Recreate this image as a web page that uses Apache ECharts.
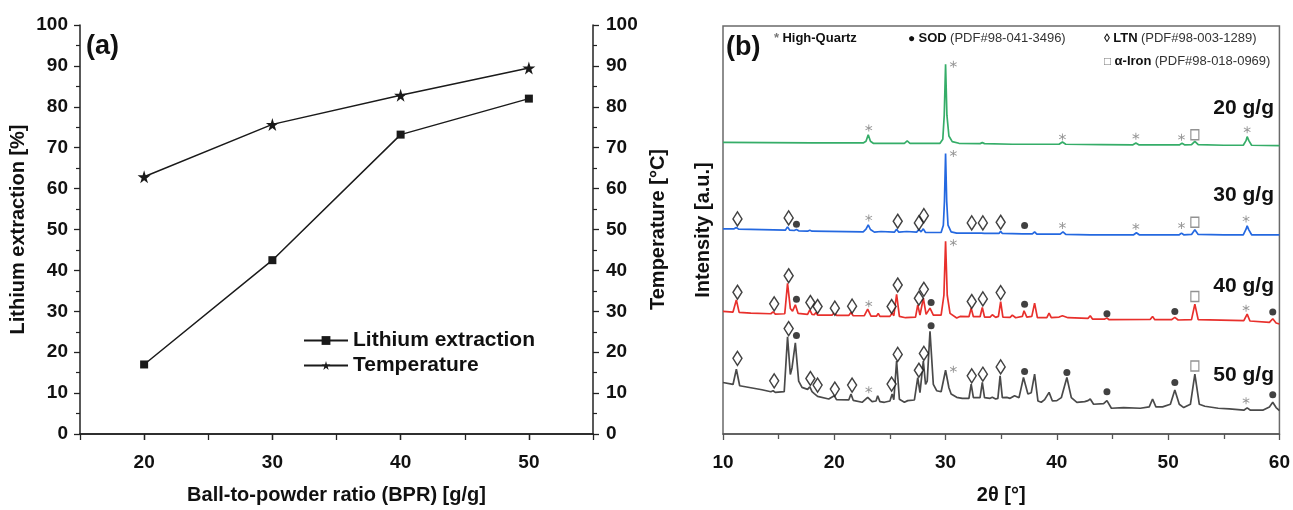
<!DOCTYPE html>
<html>
<head>
<meta charset="utf-8">
<script src="https://cdn.jsdelivr.net/npm/echarts@6/dist/echarts.min.js"></script>
<style>
  html, body { margin: 0; padding: 0; background: #fff; }
  #chart { width: 1293px; height: 510px; }
</style>
</head>
<body>
<div id="chart"></div>
<script>
// ---- Panel (a): lithium extraction and temperature vs. ball-to-powder ratio ----
const bprValues = [20, 30, 40, 50];
const lithiumExtraction = [17, 42.5, 73.2, 82];
const temperature = [62.9, 75.7, 82.8, 89.5];
const bprTicks = [20, 30, 40, 50];

// ---- Panel (b): XRD patterns, [2θ (°), intensity (a.u., stacked)] ----
const sampleNames = ['20 g/g', '30 g/g', '40 g/g', '50 g/g'];

const xrd20 = [
  [10, 883], [14, 882], [18, 881], [22.6, 881], [22.85, 886], [23.05, 906], [23.25, 886], [23.5, 880],
  [26.3, 880], [26.55, 887], [26.8, 880], [29.5, 880], [29.75, 892], [29.88, 965], [30.0, 1119],
  [30.12, 965], [30.3, 902], [30.6, 885], [31.2, 880], [33.1, 879], [33.3, 882], [33.5, 879],
  [36, 877], [40.2, 877], [40.5, 884], [40.8, 877], [44, 876], [46.8, 875], [47.1, 881], [47.4, 875],
  [49, 875], [51.0, 875], [51.25, 880], [51.5, 875], [52.1, 876], [52.4, 886], [52.7, 876],
  [55, 874], [56.75, 874], [57.0, 888], [57.1, 900], [57.25, 888], [57.5, 874], [60, 873]
];

const xrd30 = [
  [10, 621], [11.0, 621], [11.2, 625], [11.4, 620], [15.6, 617], [15.8, 627], [16.0, 617],
  [16.4, 616], [16.6, 619], [16.8, 615], [17.6, 614], [17.8, 617], [18.0, 614], [22.6, 612],
  [22.85, 620], [23.05, 633], [23.25, 619], [23.6, 611], [24.2, 613], [25.4, 611], [25.6, 620],
  [25.8, 611], [26.5, 613], [27.4, 611], [27.6, 619], [27.8, 612], [28.0, 621], [28.2, 610],
  [29.6, 610], [29.8, 632], [29.9, 705], [30.0, 849], [30.1, 705], [30.22, 632], [30.5, 612],
  [31, 608], [32.2, 608], [32.35, 612], [32.5, 608], [33.2, 608], [33.35, 612], [33.5, 607],
  [34.8, 607], [34.95, 614], [35.1, 607], [36.9, 606], [37.05, 611], [37.2, 606], [37.8, 606],
  [38.0, 612], [38.2, 605], [40.3, 605], [40.55, 612], [40.8, 604], [43, 603], [46.9, 603],
  [47.15, 609], [47.4, 603], [51.0, 603], [51.2, 608], [51.4, 603], [52.1, 604], [52.4, 618],
  [52.7, 604], [55, 603], [56.75, 603], [57.0, 620], [57.1, 630], [57.25, 618], [57.5, 603], [60, 603]
];

const xrd40 = [
  [10, 371], [10.9, 369], [11.2, 406], [11.45, 368], [12.5, 366], [14.3, 364], [14.5, 370],
  [14.7, 363], [15.55, 364], [15.8, 456], [16.05, 380], [16.25, 372], [16.5, 391], [16.75, 365],
  [17.6, 362], [17.8, 376], [18.0, 362], [18.2, 361], [18.35, 368], [18.5, 360], [19.8, 360],
  [20.0, 367], [20.2, 359], [21.3, 359], [21.5, 368], [21.7, 358], [22.7, 358], [23.0, 378],
  [23.3, 357], [23.8, 357], [23.95, 365], [24.1, 356], [25.0, 356], [25.2, 366], [25.35, 358],
  [25.6, 423], [25.85, 356], [26.4, 352], [27.3, 354], [27.5, 391], [27.7, 360], [28.0, 411],
  [28.25, 362], [28.6, 381], [28.9, 360], [29.6, 360], [29.85, 420], [30.0, 583], [30.15, 420],
  [30.4, 365], [31, 351], [31.3, 356], [32.1, 355], [32.3, 381], [32.5, 355], [33.1, 355],
  [33.3, 383], [33.5, 354], [34.0, 354], [34.2, 361], [34.5, 353], [34.75, 356], [34.95, 401],
  [35.15, 354], [35.8, 353], [36.0, 360], [36.3, 352], [36.9, 356], [37.05, 373], [37.3, 354],
  [37.75, 356], [38.0, 396], [38.25, 352], [39.1, 352], [39.3, 366], [39.5, 352], [40.2, 354],
  [40.5, 358], [41, 352], [42.8, 350], [43.0, 358], [43.2, 348], [44.3, 348], [44.5, 351],
  [44.7, 346], [48.4, 347], [48.6, 356], [48.8, 346], [50.3, 346], [50.6, 353], [50.9, 345],
  [52.1, 346], [52.4, 393], [52.7, 346], [56.8, 343], [57.1, 363], [57.35, 342], [59.1, 338],
  [59.4, 349], [59.7, 336], [60, 333]
];

const xrd50 = [
  [10, 156], [10.9, 150], [11.2, 196], [11.5, 146], [12.5, 140], [13.5, 134], [14.3, 128],
  [14.5, 131], [14.7, 126], [15.5, 128], [15.8, 294], [16.05, 180], [16.2, 200], [16.5, 276],
  [16.8, 160], [17.1, 141], [17.6, 135], [17.8, 143], [18.0, 128], [18.2, 122], [18.35, 126],
  [18.5, 114], [19.5, 106], [20.0, 116], [20.2, 104], [21.3, 103], [21.5, 121], [21.7, 102],
  [22.5, 96], [23.0, 111], [23.4, 98], [23.75, 100], [23.9, 116], [24.1, 98], [24.5, 96],
  [25.0, 100], [25.2, 121], [25.35, 104], [25.6, 221], [25.85, 105], [26.3, 96], [26.6, 101],
  [27.2, 103], [27.5, 171], [27.7, 125], [28.0, 221], [28.2, 150], [28.35, 160], [28.6, 311],
  [28.9, 150], [29.2, 131], [29.6, 128], [30.0, 193], [30.3, 140], [30.5, 121], [31, 111],
  [31.5, 108], [32.1, 108], [32.3, 151], [32.5, 110], [33.1, 110], [33.3, 156], [33.5, 110],
  [34.0, 108], [34.2, 111], [34.5, 106], [34.7, 108], [34.9, 176], [35.1, 110], [35.5, 111],
  [35.8, 108], [36.2, 116], [36.6, 110], [37.0, 171], [37.4, 121], [37.7, 125], [38.0, 181],
  [38.3, 100], [38.6, 96], [38.9, 104], [39.3, 126], [39.6, 100], [40.0, 101], [40.4, 110],
  [40.9, 171], [41.3, 110], [41.8, 96], [42.5, 98], [42.8, 101], [43.0, 106], [43.3, 90],
  [44.2, 92], [44.5, 101], [44.9, 78], [46, 80], [47.5, 78], [48.3, 82], [48.6, 106], [48.9, 82],
  [49.5, 82], [50.2, 90], [50.6, 133], [51.0, 90], [51.4, 80], [52.0, 90], [52.4, 181], [52.8, 90],
  [53.3, 84], [54.5, 78], [55.5, 76], [56.8, 72], [57.1, 79], [57.4, 72], [58.5, 72], [59.1, 82],
  [59.4, 96], [59.7, 80], [60, 71]
];

// Phase identification marks placed above the assigned reflections
const quartzPeaks = [
  [30.7, 1119], [23.1, 926], [40.5, 899], [47.1, 901], [51.2, 898], [57.1, 921],
  [23.1, 654], [30.7, 849], [40.5, 631], [47.1, 628], [51.2, 631], [57.0, 651],
  [23.1, 394], [30.7, 579], [57.0, 381],
  [23.1, 134], [30.7, 196], [57.0, 101]
];
const sodPeaks = [
  [16.6, 635], [37.1, 631],
  [16.6, 408], [28.7, 398], [37.1, 393], [44.5, 364], [50.6, 371], [59.4, 369],
  [16.6, 298], [28.7, 328], [37.1, 189], [40.9, 186], [44.5, 128], [50.6, 156], [59.4, 119]
];
const ltnPeaks = [
  [11.3, 651], [15.9, 654], [25.7, 644], [27.6, 639], [28.05, 661], [32.35, 639], [33.35, 639], [34.95, 641],
  [11.3, 429], [14.6, 394], [15.9, 479], [17.85, 398], [18.5, 386], [20.05, 381], [21.6, 387],
  [25.15, 386], [25.7, 451], [27.6, 411], [28.05, 438], [32.35, 401], [33.35, 409], [34.95, 428],
  [11.3, 229], [14.6, 161], [15.9, 319], [17.85, 168], [18.5, 148], [20.05, 136], [21.6, 148],
  [25.15, 151], [25.7, 241], [27.6, 193], [28.05, 244], [32.35, 176], [33.35, 181], [34.95, 203]
];
const ironPeaks = [[52.4, 906], [52.4, 641], [52.4, 416], [52.4, 206]];

const phaseLegend = [
  { mark: '*', name: 'High-Quartz', ref: '' },
  { mark: '●', name: 'SOD', ref: '(PDF#98-041-3496)' },
  { mark: '◊', name: 'LTN', ref: '(PDF#98-003-1289)' },
  { mark: '□', name: 'α-Iron', ref: '(PDF#98-018-0969)' }
];

const FONT = '"Liberation Sans", Arial, sans-serif';
const STAR = 'path://M50,0 L61,35 L98,35 L68,57 L79,91 L50,70 L21,91 L32,57 L2,35 L39,35 Z';
const ASTERISK = 'path://M44,0 L56,0 L56,100 L44,100 Z ' +
  'M4.2,29.33 L10.2,18.9 L95.8,70.67 L89.8,81.1 Z ' +
  'M10.2,81.1 L4.2,70.67 L89.8,18.9 L95.8,29.33 Z';

const pairs = (xs, ys) => xs.map((x, i) => [x, ys[i]]);

const chart = echarts.init(document.getElementById('chart'), null, { renderer: 'canvas' });

const tickLabel = { color: '#111', fontFamily: FONT, fontWeight: 'bold', fontSize: 19 };
const axisNameStyle = { color: '#111', fontFamily: FONT, fontWeight: 'bold', fontSize: 20 };
const blackLine = { show: true, lineStyle: { color: '#222', width: 1.5 } };

const sampleColors = ['#35ad68', '#2468e0', '#e8302c', '#4a4a4a'];
const patterns = [xrd20, xrd30, xrd40, xrd50];

chart.setOption({
  animation: false,
  backgroundColor: '#fff',
  textStyle: { fontFamily: FONT },
  grid: [
    { left: 80, top: 25, width: 513, height: 412 },
    { left: 723, top: 26, width: 557, height: 411, show: true, borderColor: '#6a6a6a', borderWidth: 1.5, backgroundColor: 'transparent' }
  ],
  xAxis: [
    {
      gridIndex: 0, type: 'value', position: 'bottom', min: 15, max: 55, interval: 5,
      axisLine: blackLine,
      axisTick: { show: true, inside: false, length: 6, lineStyle: { color: '#222', width: 1.3 } },
      axisLabel: Object.assign({ margin: 19, formatter: v => (bprTicks.includes(v) ? String(v) : '') }, tickLabel),
      splitLine: { show: false },
      name: 'Ball-to-powder ratio (BPR) [g/g]', nameLocation: 'middle', nameGap: 51,
      nameTextStyle: axisNameStyle
    },
    {
      gridIndex: 0, type: 'value', position: 'top', min: 15, max: 55, interval: 5,
      axisLine: blackLine,
      axisTick: { show: true, inside: true, length: 6, customValues: bprTicks, lineStyle: { color: '#222', width: 1.3 } },
      axisLabel: { show: false },
      splitLine: { show: false }
    },
    {
      gridIndex: 1, type: 'value', position: 'bottom', min: 10, max: 60, interval: 10,
      axisLine: { show: true, lineStyle: { color: '#555', width: 1.5 } },
      axisTick: { show: true, inside: false, length: 6, lineStyle: { color: '#555', width: 1.3 } },
      minorTick: { show: true, splitNumber: 2, length: 5, lineStyle: { color: '#555', width: 1.3 } },
      axisLabel: Object.assign({ margin: 19 }, tickLabel),
      splitLine: { show: false },
      name: '2θ [°]', nameLocation: 'middle', nameGap: 51,
      nameTextStyle: axisNameStyle
    }
  ],
  yAxis: [
    {
      gridIndex: 0, type: 'value', position: 'left', min: 0, max: 100, interval: 10,
      axisLine: blackLine,
      axisTick: { show: true, inside: false, length: 6, lineStyle: { color: '#222', width: 1.3 } },
      minorTick: { show: true, splitNumber: 2, length: 4, lineStyle: { color: '#222', width: 1.2 } },
      axisLabel: Object.assign({ margin: 12 }, tickLabel),
      splitLine: { show: false },
      name: 'Lithium extraction [%]', nameLocation: 'middle', nameGap: 52,
      nameTextStyle: axisNameStyle
    },
    {
      gridIndex: 0, type: 'value', position: 'right', min: 0, max: 100, interval: 10,
      axisLine: blackLine,
      axisTick: { show: true, inside: false, length: 6, lineStyle: { color: '#222', width: 1.3 } },
      minorTick: { show: true, splitNumber: 2, length: 4, lineStyle: { color: '#222', width: 1.2 } },
      axisLabel: Object.assign({ margin: 13 }, tickLabel),
      splitLine: { show: false },
      name: 'Temperature [°C]', nameLocation: 'middle', nameGap: 55,
      nameTextStyle: axisNameStyle
    },
    {
      gridIndex: 1, type: 'value', min: 0, max: 1235,
      axisLine: { show: false }, axisTick: { show: false }, axisLabel: { show: false },
      splitLine: { show: false },
      name: 'Intensity [a.u.]', nameLocation: 'middle', nameGap: 10,
      nameTextStyle: axisNameStyle
    }
  ],
  legend: {
    orient: 'vertical', left: 298, top: 325, itemGap: 4, itemWidth: 44, itemHeight: 11,
    data: ['Lithium extraction', 'Temperature'],
    textStyle: { color: '#111', fontFamily: FONT, fontWeight: 'bold', fontSize: 21 }
  },
  series: [
    {
      name: 'Lithium extraction', type: 'line', xAxisIndex: 0, yAxisIndex: 0,
      data: pairs(bprValues, lithiumExtraction),
      symbol: 'rect', symbolSize: 8,
      lineStyle: { color: '#1a1a1a', width: 1.5 }, itemStyle: { color: '#1a1a1a' }
    },
    {
      name: 'Temperature', type: 'line', xAxisIndex: 0, yAxisIndex: 1,
      data: pairs(bprValues, temperature),
      symbol: STAR, symbolSize: 13,
      lineStyle: { color: '#1a1a1a', width: 1.5 }, itemStyle: { color: '#1a1a1a' }
    },
    ...patterns.map((p, i) => ({
      name: sampleNames[i], type: 'line', xAxisIndex: 2, yAxisIndex: 2,
      data: p, showSymbol: false, symbol: 'none',
      lineStyle: { color: sampleColors[i], width: 1.7 }
    })),
    {
      name: 'High-Quartz', type: 'scatter', xAxisIndex: 2, yAxisIndex: 2,
      data: quartzPeaks, symbol: ASTERISK, symbolSize: 7,
      itemStyle: { color: '#7a7a7a' }, z: 5
    },
    {
      name: 'SOD', type: 'scatter', xAxisIndex: 2, yAxisIndex: 2,
      data: sodPeaks, symbol: 'circle', symbolSize: 7,
      itemStyle: { color: '#111' }, z: 5
    },
    {
      name: 'LTN', type: 'scatter', xAxisIndex: 2, yAxisIndex: 2,
      data: ltnPeaks, symbol: 'diamond', symbolSize: [9, 14],
      itemStyle: { color: '#fff', borderColor: '#111', borderWidth: 1.5 }, z: 5
    },
    {
      name: 'α-Iron', type: 'scatter', xAxisIndex: 2, yAxisIndex: 2,
      data: ironPeaks, symbol: 'rect', symbolSize: [8, 10],
      itemStyle: { color: '#fff', borderColor: '#777', borderWidth: 1.3 }, z: 5
    }
  ],
  graphic: [
    { type: 'text', left: 86, top: 33, style: { text: '(a)', font: 'bold 27px ' + FONT, fill: '#111' } },
    { type: 'text', left: 726, top: 34, style: { text: '(b)', font: 'bold 27px ' + FONT, fill: '#111' } },
    // phase key across the top of panel (b)
    ...[[774, 32], [908, 32], [1104, 32], [1104, 55]].map((pos, i) => ({
      type: 'text', x: pos[0], y: pos[1],
      style: {
        text: '{m|' + phaseLegend[i].mark + '} {b|' + phaseLegend[i].name + '}' +
              (phaseLegend[i].ref ? ' {r|' + phaseLegend[i].ref + '}' : ''),
        rich: {
          m: { fontFamily: FONT, fontSize: i === 0 ? 13 : 12, fill: i === 0 || i === 3 ? '#777' : '#111', fontWeight: 'bold' },
          b: { fontFamily: FONT, fontSize: 13, fontWeight: 'bold', fill: '#111' },
          r: { fontFamily: FONT, fontSize: 13, fill: '#333' }
        }
      }
    })),
    // sample labels at the right end of each pattern
    ...[108, 195, 286, 375].map((yc, i) => ({
      type: 'text', x: 1274, y: yc,
      style: { text: sampleNames[i], font: 'bold 21px ' + FONT, fill: '#111', align: 'right', verticalAlign: 'middle' }
    }))
  ]
});
</script>
</body>
</html>
